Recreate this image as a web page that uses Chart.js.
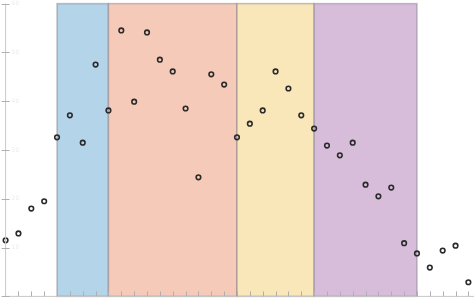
<!DOCTYPE html>
<html>
<head>
<meta charset="utf-8">
<script src="https://cdn.jsdelivr.net/npm/chart.js@4/dist/chart.umd.min.js"></script>
<style>
  html, body { margin: 0; padding: 0; background: #fff; overflow: hidden; }
  #wrap { width: 474px; height: 304px; margin-top: -2px; }
</style>
</head>
<body>
<div id="wrap"><canvas id="chart"></canvas></div>
<script>
// values (x = step index)
const values = [11.5, 12.9, 18.0, 19.5, 32.6, 37.1, 31.5, 47.5, 38.1, 54.5,
  39.9, 54.1, 48.5, 46.1, 38.5, 24.4, 45.5, 43.4, 32.6, 35.4,
  38.1, 46.1, 42.6, 37.1, 34.4, 30.9, 28.9, 31.5, 22.9, 20.5,
  22.3, 10.9, 8.8, 5.9, 9.4, 10.4, 2.9];

// shaded phases
const bandStarts = [4, 8, 18, 24];
const bandEnds = [8, 18, 24, 32];
const bandColors = ['#b4d4ea', '#f6cab9', '#f9e6b9', '#d7bdd9'];

const yTicks = [0, 10, 20, 30, 40, 50, 60];

// background bands behind the points
const bandPlugin = {
  id: 'bands',
  beforeDatasetsDraw(chart) {
    const {ctx, scales: {x, y}} = chart;
    ctx.save();
    bandStarts.forEach((s, i) => {
      const x0 = x.getPixelForValue(s);
      const x1 = x.getPixelForValue(bandEnds[i]);
      const top = y.getPixelForValue(60);
      const bot = y.getPixelForValue(0);
      ctx.fillStyle = bandColors[i];
      ctx.fillRect(x0, top, x1 - x0, bot - top);
      ctx.strokeStyle = 'rgba(120,120,130,0.45)';
      ctx.lineWidth = 1.5;
      ctx.strokeRect(x0, top, x1 - x0, bot - top);
    });
    ctx.restore();
  }
};

// thin axes with inward ticks
const axisPlugin = {
  id: 'axes',
  afterDatasetsDraw(chart) {
    const {ctx, scales: {x, y}} = chart;
    const x0 = x.getPixelForValue(0);
    const y0 = y.getPixelForValue(0);
    ctx.save();
    ctx.strokeStyle = '#c8c8c8';
    ctx.lineWidth = 1;
    ctx.beginPath();
    ctx.moveTo(x0, y.getPixelForValue(60));
    ctx.lineTo(x0, y0);
    ctx.lineTo(chart.width, y0);
    ctx.stroke();
    ctx.strokeStyle = '#b0b0b0';
    ctx.beginPath();
    yTicks.forEach(t => {
      const py = Math.round(y.getPixelForValue(t)) + 0.5;
      ctx.moveTo(x0 - 4, py);
      ctx.lineTo(x0 + 4, py);
    });
    for (let i = 1; i < values.length; i++) {
      const px = Math.round(x.getPixelForValue(i)) + 0.5;
      ctx.moveTo(px, y0);
      ctx.lineTo(px, y0 - 5);
    }
    ctx.stroke();
    ctx.fillStyle = '#ececec';
    ctx.font = '6px "DejaVu Sans"';
    ctx.textBaseline = 'middle';
    yTicks.forEach(t => {
      if (t > 0) ctx.fillText(String(t), x0 + 6, y.getPixelForValue(t));
    });
    ctx.restore();
  }
};

new Chart(document.getElementById('chart'), {
  type: 'scatter',
  data: {
    datasets: [{
      data: values.map((v, i) => ({x: i, y: v})),
      pointRadius: 2.3,
      pointBorderWidth: 1.6,
      pointBorderColor: '#2a2a2a',
      pointBackgroundColor: 'rgba(255,255,255,0)',
      clip: false
    }]
  },
  options: {
    responsive: true,
    maintainAspectRatio: false,
    animation: false,
    layout: { padding: { left: 4, top: 0, right: 0, bottom: 0 } },
    scales: {
      x: { type: 'linear', min: 0, max: 36.0, display: false },
      y: { min: 0, max: 60, display: false }
    },
    plugins: { legend: { display: false }, tooltip: { enabled: false } }
  },
  plugins: [bandPlugin, axisPlugin]
});
</script>
</body>
</html>
